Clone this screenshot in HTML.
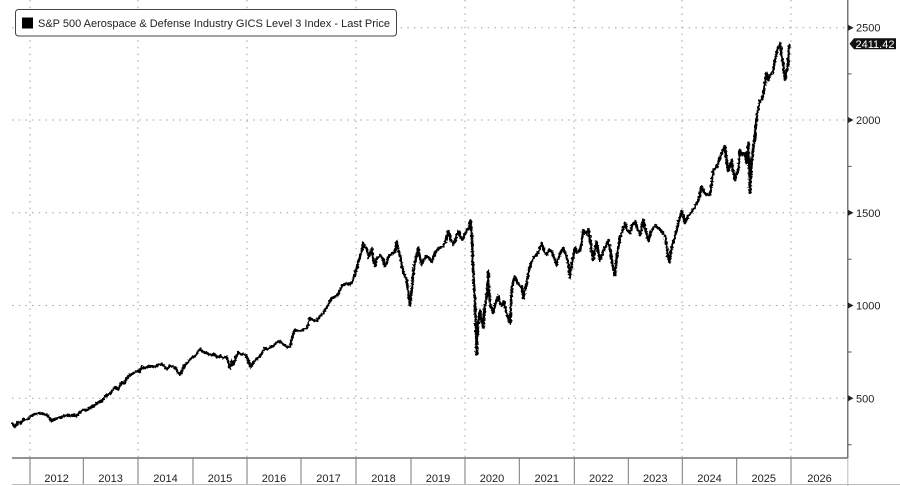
<!DOCTYPE html>
<html><head><meta charset="utf-8"><style>
html,body{margin:0;padding:0;background:#fff;}
svg{display:block;font-family:"Liberation Sans",Arial,sans-serif;}
</style></head><body>
<svg width="900" height="486" viewBox="0 0 900 486" xmlns="http://www.w3.org/2000/svg">
<defs>
<filter id="jit" x="-5%" y="-5%" width="110%" height="110%">
<feTurbulence type="fractalNoise" baseFrequency="0.45" numOctaves="2" seed="3" result="n"/>
<feDisplacementMap in="SourceGraphic" in2="n" scale="3.2" xChannelSelector="R" yChannelSelector="G"/>
</filter>
</defs>
<rect width="900" height="486" fill="#fff"/>
<g stroke="#a0a0a0" stroke-width="1" stroke-dasharray="1.5 5.2">
<line x1="12" y1="27.7" x2="847" y2="27.7"/>
<line x1="12" y1="120" x2="847" y2="120"/>
<line x1="12" y1="212.8" x2="847" y2="212.8"/>
<line x1="12" y1="305.5" x2="847" y2="305.5"/>
<line x1="12" y1="398.3" x2="847" y2="398.3"/>
<line x1="30" y1="0" x2="30" y2="457"/>
<line x1="138" y1="0" x2="138" y2="457"/>
<line x1="247" y1="0" x2="247" y2="457"/>
<line x1="356" y1="0" x2="356" y2="457"/>
<line x1="465" y1="0" x2="465" y2="457"/>
<line x1="574" y1="0" x2="574" y2="457"/>
<line x1="682" y1="0" x2="682" y2="457"/>
<line x1="791" y1="0" x2="791" y2="457"/>
</g>
<!-- axes -->
<line x1="847.8" y1="0" x2="847.8" y2="458" stroke="#555" stroke-width="1.2"/>
<line x1="12" y1="458" x2="848" y2="458" stroke="#555" stroke-width="1.2"/>
<line x1="847.8" y1="458" x2="847.8" y2="486" stroke="#bbb" stroke-width="1"/>
<line x1="12" y1="484.5" x2="900" y2="484.5" stroke="#bbb" stroke-width="1"/>
<g stroke="#777" stroke-width="1">
<line x1="30" y1="458" x2="30" y2="484"/>
<line x1="83.3" y1="458" x2="83.3" y2="484"/>
<line x1="138" y1="458" x2="138" y2="484"/>
<line x1="193" y1="458" x2="193" y2="484"/>
<line x1="247" y1="458" x2="247" y2="484"/>
<line x1="301" y1="458" x2="301" y2="484"/>
<line x1="356" y1="458" x2="356" y2="484"/>
<line x1="411" y1="458" x2="411" y2="484"/>
<line x1="465" y1="458" x2="465" y2="484"/>
<line x1="519.3" y1="458" x2="519.3" y2="484"/>
<line x1="574.3" y1="458" x2="574.3" y2="484"/>
<line x1="628.3" y1="458" x2="628.3" y2="484"/>
<line x1="682.3" y1="458" x2="682.3" y2="484"/>
<line x1="736.7" y1="458" x2="736.7" y2="484"/>
<line x1="791" y1="458" x2="791" y2="484"/>
</g>
<g font-size="11" fill="#222" text-anchor="middle">
<text x="56.6" y="482">2012</text>
<text x="110.6" y="482">2013</text>
<text x="165.5" y="482">2014</text>
<text x="220" y="482">2015</text>
<text x="274" y="482">2016</text>
<text x="328.5" y="482">2017</text>
<text x="383.5" y="482">2018</text>
<text x="438" y="482">2019</text>
<text x="492" y="482">2020</text>
<text x="546.8" y="482">2021</text>
<text x="601.3" y="482">2022</text>
<text x="655.3" y="482">2023</text>
<text x="709.5" y="482">2024</text>
<text x="763.8" y="482">2025</text>
<text x="819.5" y="482">2026</text>
</g>
<!-- right axis ticks -->
<g fill="#222">
<polygon points="848,24.7 853.5,27.7 848,30.7"/>
<polygon points="848,117 853.5,120 848,123"/>
<polygon points="848,209.8 853.5,212.8 848,215.8"/>
<polygon points="848,302.5 853.5,305.5 848,308.5"/>
<polygon points="848,395.3 853.5,398.3 848,401.3"/>
</g>
<g stroke="#555" stroke-width="1">
<line x1="848" y1="73.9" x2="851.5" y2="73.9"/>
<line x1="848" y1="166.4" x2="851.5" y2="166.4"/>
<line x1="848" y1="259.2" x2="851.5" y2="259.2"/>
<line x1="848" y1="352" x2="851.5" y2="352"/>
<line x1="848" y1="444.7" x2="851.5" y2="444.7"/>
</g>
<g font-size="11" fill="#222">
<text x="856" y="31.7">2500</text>
<text x="856" y="124">2000</text>
<text x="856" y="216.8">1500</text>
<text x="856" y="309.5">1000</text>
<text x="856" y="402.3">500</text>
</g>
<!-- price tag -->
<polygon points="849.5,43.8 854,38.3 896,38.3 896,49.3 854,49.3" fill="#111"/>
<text x="875" y="47.8" font-size="11" fill="#fff" text-anchor="middle">2411.42</text>
<!-- series -->
<polyline filter="url(#jit)" fill="none" stroke="#000" stroke-width="2.6" stroke-linejoin="round" stroke-linecap="round" points="12.5,424 15,427 18,422 21,423 24,419 27,420 31,416 35,414 40,413 44,414 47,415 51.7,421 55,419 58.3,418 62,417 66.7,415 70,416 73,415 76.7,416 80,412 83.3,410 87,410 91.7,407 95,405 98.3,402 102,401 106.7,395 110,394 113,390 115,387 118,389 121.7,382 124,384 128.3,376 132,374 136.7,371 139,372 141.7,367 145,368 150,366 155,367 158,365 161.7,364 164,366 166.7,369 170,366 173.3,366 176,369 180,375 183,368 185,365 188,362 191.7,358 195,356 200,349 203,352 207,353 210,355 214,354 217,357 220,356 223,358 226.7,357 230,368 231.7,361 233.3,365 236,357 238.3,352 242,355 245,354 248,360 250.7,367 253,363 256.7,359 260,356 265,348 268,349 271,347 273.3,346 276,343 280,341 283,344 286.7,347 290,346 293.3,333 295,330 299,331 303,330 306.7,328 310,318 313,320 316.7,321 320,316 323.3,313 327,307 331.7,298 335,297 338.3,294 341.7,286 344,285 346.7,283 350,285 353,280 355,273 356.7,269 358,263 360,256 362,250 363.3,243 365,247 366.7,248 368.3,258 370,253 371.7,249 373,257 375,266 377,258 380,255 383.3,260 385,266 386.7,263 388,257 390,255 392,254 395,252 396.7,241 398,248 400,255 402,265 403.3,272 405,276 406.7,280 408,290 410,306 411.7,290 413,275 415,262 418.3,248 420,258 421.7,265 424,260 426.7,256 429,258 431.7,262 434,255 436.7,250 440,248 443.3,246 446,240 448.3,231 451,240 453.3,245 456,238 458.3,231 460,236 462.7,240 465,234 466.7,230 469,228 470.7,220 472,240 472.7,263 474,285 475,300 476,330 476.7,355 478,325 480,310 481.5,320 483.3,328 485,305 487,295 488.3,271 489,290 490,303 491.5,308 493.3,313 495,305 498.3,296 500,303 501.7,306 504,302 507,315 510,323 511.7,290 513.3,281 515,277 517,282 520,286 521.7,287 523.3,298 525,290 526.7,283 529,270 531.7,261 534,257 538,253 541.7,243 544,250 546.7,255 549,250 551.7,251 554,258 556.7,265 559,256 563.3,248 566,255 568,262 570,278 572,262 575,248 577,252 580,251 582,240 583.3,230 586,234 588.3,229 590,240 593.3,260 595,250 596.7,241 598,250 600,261 603,252 606,245 608.3,240 611,255 613,268 615,275 617,255 620,238 622,232 625,223 627,230 630,233 632,226 635,221 638,230 640,235 643.3,220 646,232 648.3,241 651,232 655,225 659,229 663.3,233 665,236 666.7,246 668.3,260 669.5,262 671.7,247 674,240 676.7,230 679,220 681.7,211 683,215 685,223 688,216 691.7,212 695,207 698.3,200 700,194 701.7,186 704,192 706.7,195 710,195 711.5,185 713.3,170 716,168 718.3,163 720,158 721.7,153 725,146 726.5,160 728.3,171 730,165 731.7,160 733,170 735,180 736.5,175 738.3,170 740,150 742,155 745,153 746.7,163 748.3,143 749.3,165 750,193 751,175 751.7,160 753,150 755,136 756.7,117 758,110 760,101 761.5,100 763.3,95 765,82 766.7,73 768,80 770,76 773.3,70 775,60 776.7,53 778,48 780,43 781.5,55 782.7,60 784,72 785,80 786.5,72 787.3,70 788.5,55 789.3,45"/>
<!-- legend -->
<rect x="15.5" y="9.5" width="381" height="26.5" rx="3" ry="3" fill="#fff" stroke="#444" stroke-width="1"/>
<rect x="22" y="17.5" width="11" height="11" fill="#000"/>
<text x="38" y="27" font-size="11" fill="#222" textLength="352" lengthAdjust="spacingAndGlyphs">S&amp;P 500 Aerospace &amp; Defense Industry GICS Level 3 Index - Last Price</text>
</svg>
</body></html>
